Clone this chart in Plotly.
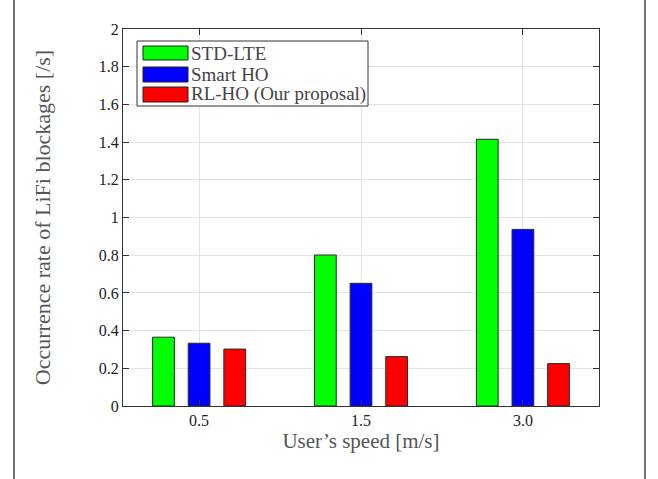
import plotly.graph_objects as go

categories = ["0.5", "1.5", "3.0"]
series_names = ["STD-LTE", "Smart HO", "RL-HO (Our proposal)"]
std_lte = [0.365, 0.801, 1.415]
smart_ho = [0.333, 0.651, 0.937]
rl_ho = [0.302, 0.262, 0.225]
colors = ["#00ff00", "#0000ff", "#ff0000"]
y_ticks = [0, 0.2, 0.4, 0.6, 0.8, 1, 1.2, 1.4, 1.6, 1.8, 2]
y_tick_labels = ["0", "0.2", "0.4", "0.6", "0.8", "1", "1.2", "1.4", "1.6", "1.8", "2"]

W, H = 658, 479
L, R, T, B = 123, 59, 29, 73
PW, PH = W - L - R, H - T - B

def px(x):
    return (x - L) / PW

def py(y):
    return (H - B - y) / PH

SERIF = "Liberation Serif, Times New Roman, serif"

fig = go.Figure()
for name, vals, c in zip(series_names, [std_lte, smart_ho, rl_ho], colors):
    fig.add_trace(go.Bar(
        x=categories, y=vals, name=name,
        marker=dict(color=c, line=dict(color="#2a2a2a", width=1)),
        showlegend=False,
    ))

shapes = []
annotations = []
# page border lines (rectangle whose top/bottom edges fall outside the canvas)
shapes.append(dict(type="rect", xref="paper", yref="paper", x0=px(14), x1=px(645), y0=py(H + 5), y1=py(-5),
                   line=dict(color="#444", width=1.5), fillcolor="rgba(0,0,0,0)", layer="below"))
# legend box
shapes.append(dict(type="rect", xref="paper", yref="paper", x0=px(137), x1=px(368), y0=py(106), y1=py(41),
                   line=dict(color="#333", width=1), fillcolor="white", layer="above"))
rows = [(46, 60), (67, 82), (87, 102)]
for (t, b), name, c in zip(rows, series_names, colors):
    shapes.append(dict(type="rect", xref="paper", yref="paper", x0=px(143), x1=px(188), y0=py(b), y1=py(t),
                       line=dict(color="#222", width=1), fillcolor=c, layer="above"))
    annotations.append(dict(xref="paper", yref="paper", x=px(189), y=py((t + b) / 2), text=name,
                            showarrow=False, xanchor="left", yanchor="middle",
                            font=dict(family=SERIF, size=19, color="#444")))

fig.update_layout(
    width=W, height=H,
    margin=dict(l=L, r=R, t=T, b=B),
    paper_bgcolor="white", plot_bgcolor="white",
    barmode="group", bargap=0.34, bargroupgap=0.39,
    shapes=shapes, annotations=annotations,
    font=dict(family=SERIF, size=16, color="#222"),
)
fig.update_xaxes(
    type="category", range=[-0.47, 2.47],
    showgrid=True, gridcolor="#e3e3e3", gridwidth=1,
    showline=True, linecolor="#333", linewidth=1, mirror="ticks",
    ticks="inside", ticklen=6, tickcolor="#333",
    tickfont=dict(family=SERIF, size=16, color="#222"),
    title=dict(text="User’s speed [m/s]", font=dict(family=SERIF, size=21, color="#555"), standoff=5),
)
fig.update_yaxes(
    range=[0, 2], tickvals=y_ticks, ticktext=y_tick_labels,
    showgrid=True, gridcolor="#e3e3e3", gridwidth=1, zeroline=False,
    showline=True, linecolor="#333", linewidth=1, mirror="ticks",
    ticks="inside", ticklen=6, tickcolor="#333",
    tickfont=dict(family=SERIF, size=16, color="#222"),
    title=dict(text="Occurrence rate of LiFi blockages [/s]", font=dict(family=SERIF, size=22, color="#555"), standoff=42),
)
fig.write_html("out.html", config={"displayModeBar": False},
               post_script="document.body.style.margin='0';document.body.style.overflow='hidden';")
